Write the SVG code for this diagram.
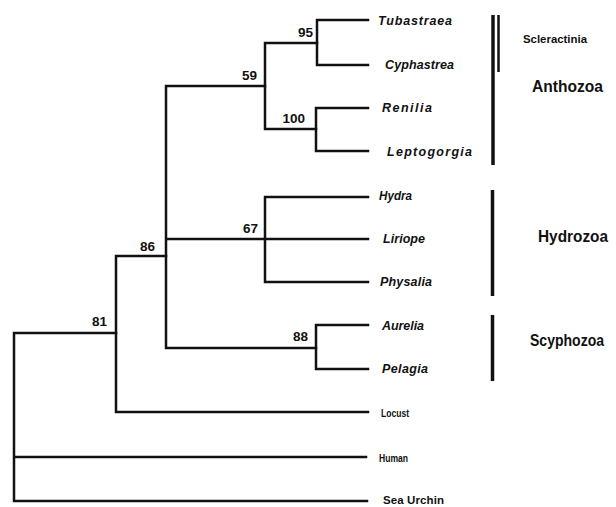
<svg xmlns="http://www.w3.org/2000/svg" width="616" height="507" viewBox="0 0 616 507">
<style>
  .br { fill: none; stroke: #111; stroke-width: 2.5; stroke-linecap: square; }
  .bar { stroke: #111; stroke-linecap: butt; }
  .taxon { font-family: "Liberation Sans", Arial, sans-serif; font-weight: bold; font-style: italic; font-size: 12.5px; fill: #111; }
  .out { font-family: "Liberation Sans", Arial, sans-serif; font-weight: bold; font-size: 11.5px; fill: #111; }
  .boot { font-family: "Liberation Sans", Arial, sans-serif; font-weight: bold; font-size: 13.5px; fill: #111; text-anchor: end; }
  .grp { font-family: "Liberation Sans", Arial, sans-serif; font-weight: bold; font-size: 16px; fill: #111; }
  .sub { font-family: "Liberation Sans", Arial, sans-serif; font-weight: bold; font-size: 11px; fill: #111; }
</style>
<rect width="616" height="507" fill="#fff"/>
<g id="connectors">
  <path class="br" d="M14,333 V501 M14,333 H116 M14,457 H366 M14,501 H367"/>
  <path class="br" d="M116,256 V412 M116,412 H368 M116,256 H166"/>
  <path class="br" d="M166,86 V348 M166,86 H265 M166,239 H368 M166,348 H316"/>
  <path class="br" d="M265,43 V129 M265,43 H317 M265,129 H316"/>
  <path class="br" d="M317,20 V65 M317,20 H368 M317,65 H368"/>
  <path class="br" d="M316,108 V151 M316,108 H368 M316,151 H368"/>
  <path class="br" d="M265,197 V282 M265,197 H368 M265,282 H368"/>
  <path class="br" d="M316,325 V369 M316,325 H368 M316,369 H368"/>
</g>
<g id="node-95"><text class="boot" x="313" y="37">95</text></g>
<g id="node-59"><text class="boot" x="257" y="80">59</text></g>
<g id="node-100"><text class="boot" x="305" y="123">100</text></g>
<g id="node-67"><text class="boot" x="258" y="233">67</text></g>
<g id="node-86"><text class="boot" x="155" y="251">86</text></g>
<g id="node-88"><text class="boot" x="308" y="341">88</text></g>
<g id="node-81"><text class="boot" x="107" y="326">81</text></g>
<g id="leaf-tubastraea"><text class="taxon" x="378" y="25" textLength="74" lengthAdjust="spacing">Tubastraea</text></g>
<g id="leaf-cyphastrea"><text class="taxon" x="385" y="69" textLength="69" lengthAdjust="spacing">Cyphastrea</text></g>
<g id="leaf-renilia"><text class="taxon" x="382" y="112" textLength="50" lengthAdjust="spacing">Renilia</text></g>
<g id="leaf-leptogorgia"><text class="taxon" x="387" y="156" textLength="85" lengthAdjust="spacing">Leptogorgia</text></g>
<g id="leaf-hydra"><text class="taxon" x="379" y="200" textLength="33" lengthAdjust="spacingAndGlyphs">Hydra</text></g>
<g id="leaf-liriope"><text class="taxon" x="383" y="243" textLength="42" lengthAdjust="spacing">Liriope</text></g>
<g id="leaf-physalia"><text class="taxon" x="380" y="286" textLength="52" lengthAdjust="spacing">Physalia</text></g>
<g id="leaf-aurelia"><text class="taxon" x="382" y="330" textLength="42" lengthAdjust="spacing">Aurelia</text></g>
<g id="leaf-pelagia"><text class="taxon" x="382" y="373" textLength="46" lengthAdjust="spacing">Pelagia</text></g>
<g id="leaf-locust"><text class="out" x="381" y="417" textLength="28" lengthAdjust="spacingAndGlyphs">Locust</text></g>
<g id="leaf-human"><text class="out" x="379" y="462" textLength="29" lengthAdjust="spacingAndGlyphs">Human</text></g>
<g id="leaf-seaurchin"><text class="out" x="383" y="504" textLength="61" lengthAdjust="spacing">Sea Urchin</text></g>
<g id="clade-anthozoa">
  <line class="bar" x1="493" y1="15" x2="493" y2="165" stroke-width="3.5"/>
  <text class="grp" x="532" y="92" textLength="71" lengthAdjust="spacingAndGlyphs">Anthozoa</text>
</g>
<g id="clade-scleractinia">
  <line class="bar" x1="498.5" y1="15" x2="498.5" y2="72" stroke-width="2.5"/>
  <text class="sub" x="523" y="43" textLength="64" lengthAdjust="spacingAndGlyphs">Scleractinia</text>
</g>
<g id="clade-hydrozoa">
  <line class="bar" x1="492.5" y1="190" x2="492.5" y2="296" stroke-width="3.5"/>
  <text class="grp" x="538" y="242" textLength="70" lengthAdjust="spacingAndGlyphs">Hydrozoa</text>
</g>
<g id="clade-scyphozoa">
  <line class="bar" x1="492.5" y1="315" x2="492.5" y2="381" stroke-width="3.5"/>
  <text class="grp" x="530" y="346" textLength="74" lengthAdjust="spacingAndGlyphs">Scyphozoa</text>
</g>
</svg>
